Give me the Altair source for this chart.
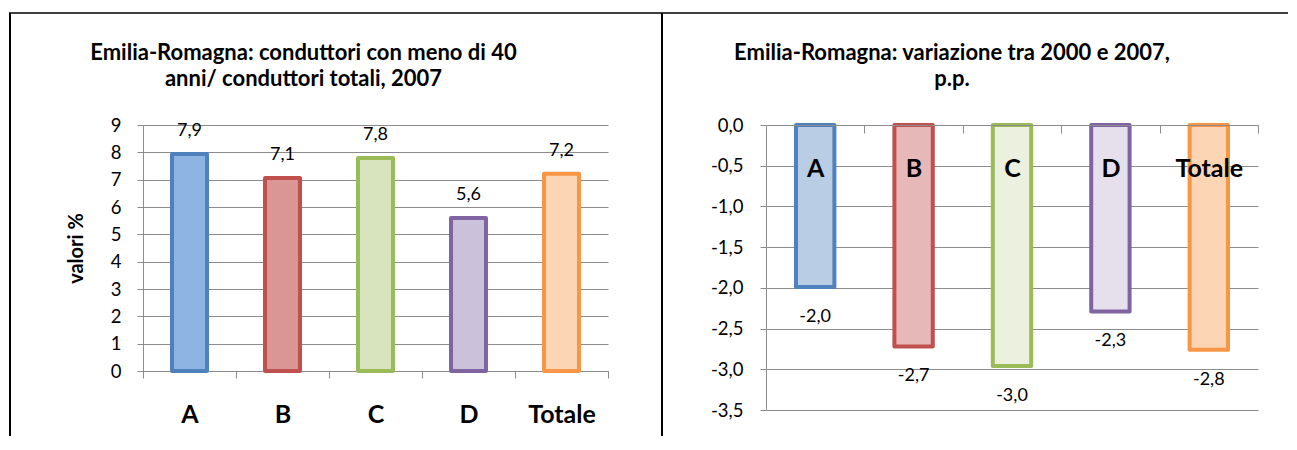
import altair as alt
import pandas as pd

# ---------------- data ----------------
categories = ["A", "B", "C", "D", "Totale"]
share_2007 = [7.94, 7.06, 7.79, 5.60, 7.22]          # % conduttori < 40 anni, 2007
change_2000_2007 = [-1.99, -2.72, -2.96, -2.29, -2.76]  # variazione p.p.

stroke_colors = ["#4F81BD", "#C0504D", "#9BBB59", "#8064A2", "#F79646"]
fill_left = ["#8EB4E3", "#D99694", "#D7E4BD", "#CCC1DA", "#FCD5B5"]
fill_right = ["#B9CDE5", "#E6B9B8", "#EBF1DE", "#E6E0EC", "#FCD5B5"]

left_ticks = [0, 1, 2, 3, 4, 5, 6, 7, 8, 9]
right_ticks = [0.0, -0.5, -1.0, -1.5, -2.0, -2.5, -3.0, -3.5]

left_title = ["Emilia-Romagna: conduttori con meno di 40", "anni/ conduttori totali, 2007"]
right_title = ["Emilia-Romagna: variazione tra 2000 e 2007,", "p.p."]
left_axis_title = "valori %"

# ---------------- styling ----------------
FONT = "Lato"
GRID = "#8C8C8C"
LW, LH = 465, 246
RW, RH = 492, 285
TITLE_OFFSET = 25
TICK_FS = 18.5
VALUE_FS = 18
CAT_FS = 25
TITLE_FS = 22


def fmt(v):
    return f"{v:.1f}".replace(".", ",")


df_left = pd.DataFrame({"cat": categories, "val": share_2007,
                        "lab": [fmt(v) for v in share_2007],
                        "fill": fill_left, "stroke": stroke_colors})
df_right = pd.DataFrame({"cat": categories, "val": change_2000_2007,
                         "lab": [fmt(v) for v in change_2000_2007],
                         "fill": fill_right, "stroke": stroke_colors})
df_one = pd.DataFrame({"k": [0]})

# ---------------- left panel ----------------
xl = alt.X("cat:N", sort=categories,
           scale=alt.Scale(paddingInner=0, paddingOuter=0),
           axis=alt.Axis(title=None, labelAngle=0, tickBand="extent", grid=False,
                         domainColor=GRID, tickColor=GRID, tickSize=7,
                         labelFont=FONT, labelFontSize=CAT_FS, labelFontWeight="bold",
                         labelColor="black", labelPadding=24))
yl = alt.Y("val:Q", scale=alt.Scale(domain=[0, 9], nice=False, zero=True),
           axis=alt.Axis(values=left_ticks, format="d", title=left_axis_title,
                         titleFont=FONT, titleFontSize=20, titleFontWeight="bold",
                         titleColor="black", titlePadding=24,
                         grid=True, gridColor=GRID, domainColor=GRID,
                         tickColor=GRID, tickSize=6, labelPadding=16,
                         labelFont=FONT, labelFontSize=TICK_FS, labelColor="black"))

left_bars = alt.Chart(df_left).mark_bar(
    width=alt.RelativeBandSize(0.376), strokeWidth=4, strokeJoin="round"
).encode(x=xl, y=yl,
         fill=alt.Fill("fill:N", scale=None),
         stroke=alt.Stroke("stroke:N", scale=None))

left_text = alt.Chart(df_left).mark_text(
    baseline="alphabetic", dy=-18, font=FONT, fontSize=VALUE_FS, color="black"
).encode(x=xl, y=yl, text="lab:N")

# page borders (document table lines)
border_left = alt.Chart(df_one).mark_rule(color="black", strokeWidth=2).encode(
    x=alt.value(-133), y=alt.value(-112), y2=alt.value(311))
border_mid = alt.Chart(df_one).mark_rule(color="black", strokeWidth=2).encode(
    x=alt.value(519), y=alt.value(-112), y2=alt.value(311))
border_top = alt.Chart(df_one).mark_rule(color="black", strokeWidth=1.5).encode(
    x=alt.value(-134), x2=alt.value(1145), y=alt.value(-112))

left = alt.layer(left_bars, left_text, border_left, border_mid, border_top).properties(
    width=LW, height=LH,
    title=alt.TitleParams(left_title, font=FONT, fontSize=TITLE_FS, fontWeight="bold",
                          color="black", anchor="middle", frame="group", dx=-72,
                          lineHeight=26, offset=TITLE_OFFSET - 104))

# ---------------- right panel ----------------
xr = alt.X("cat:N", sort=categories,
           scale=alt.Scale(paddingInner=0, paddingOuter=0),
           axis=alt.Axis(title=None, orient="bottom", offset=-RH, labelAngle=0,
                         tickBand="extent", grid=False, zindex=1,
                         domainColor=GRID, tickColor=GRID, tickSize=8,
                         labelFont=FONT, labelFontSize=CAT_FS, labelFontWeight="bold",
                         labelColor="black", labelPadding=23))
yr = alt.Y("val:Q", scale=alt.Scale(domain=[-3.5, 0], nice=False),
           axis=alt.Axis(values=right_ticks, title=None,
                         labelExpr="replace(replace(format(datum.value, '.1f'), '.', ','), '\u2212', '-')",
                         grid=True, gridColor=GRID, domainColor=GRID,
                         tickColor=GRID, tickSize=6, labelPadding=17,
                         labelFont=FONT, labelFontSize=TICK_FS, labelColor="black"))

right_bars = alt.Chart(df_right).mark_bar(
    width=alt.RelativeBandSize(0.39), strokeWidth=4, strokeJoin="round"
).encode(x=xr, y=yr,
         fill=alt.Fill("fill:N", scale=None),
         stroke=alt.Stroke("stroke:N", scale=None))

right_text = alt.Chart(df_right).mark_text(
    baseline="alphabetic", dy=35, font=FONT, fontSize=VALUE_FS, color="black"
).encode(x=xr, y=yr, text="lab:N")

right = alt.layer(right_bars, right_text).properties(
    width=RW, height=RH,
    title=alt.TitleParams(right_title, font=FONT, fontSize=TITLE_FS, fontWeight="bold",
                          color="black", anchor="middle", frame="group", dx=-60,
                          lineHeight=26, offset=TITLE_OFFSET))

chart = alt.hconcat(left, right, spacing=158, bounds="flush").properties(
    padding={"left": 0, "top": 4, "right": 0, "bottom": 0},
    background="white",
).configure_view(stroke=None)

chart.save("out.html", embed_options={"renderer": "svg", "actions": False})
